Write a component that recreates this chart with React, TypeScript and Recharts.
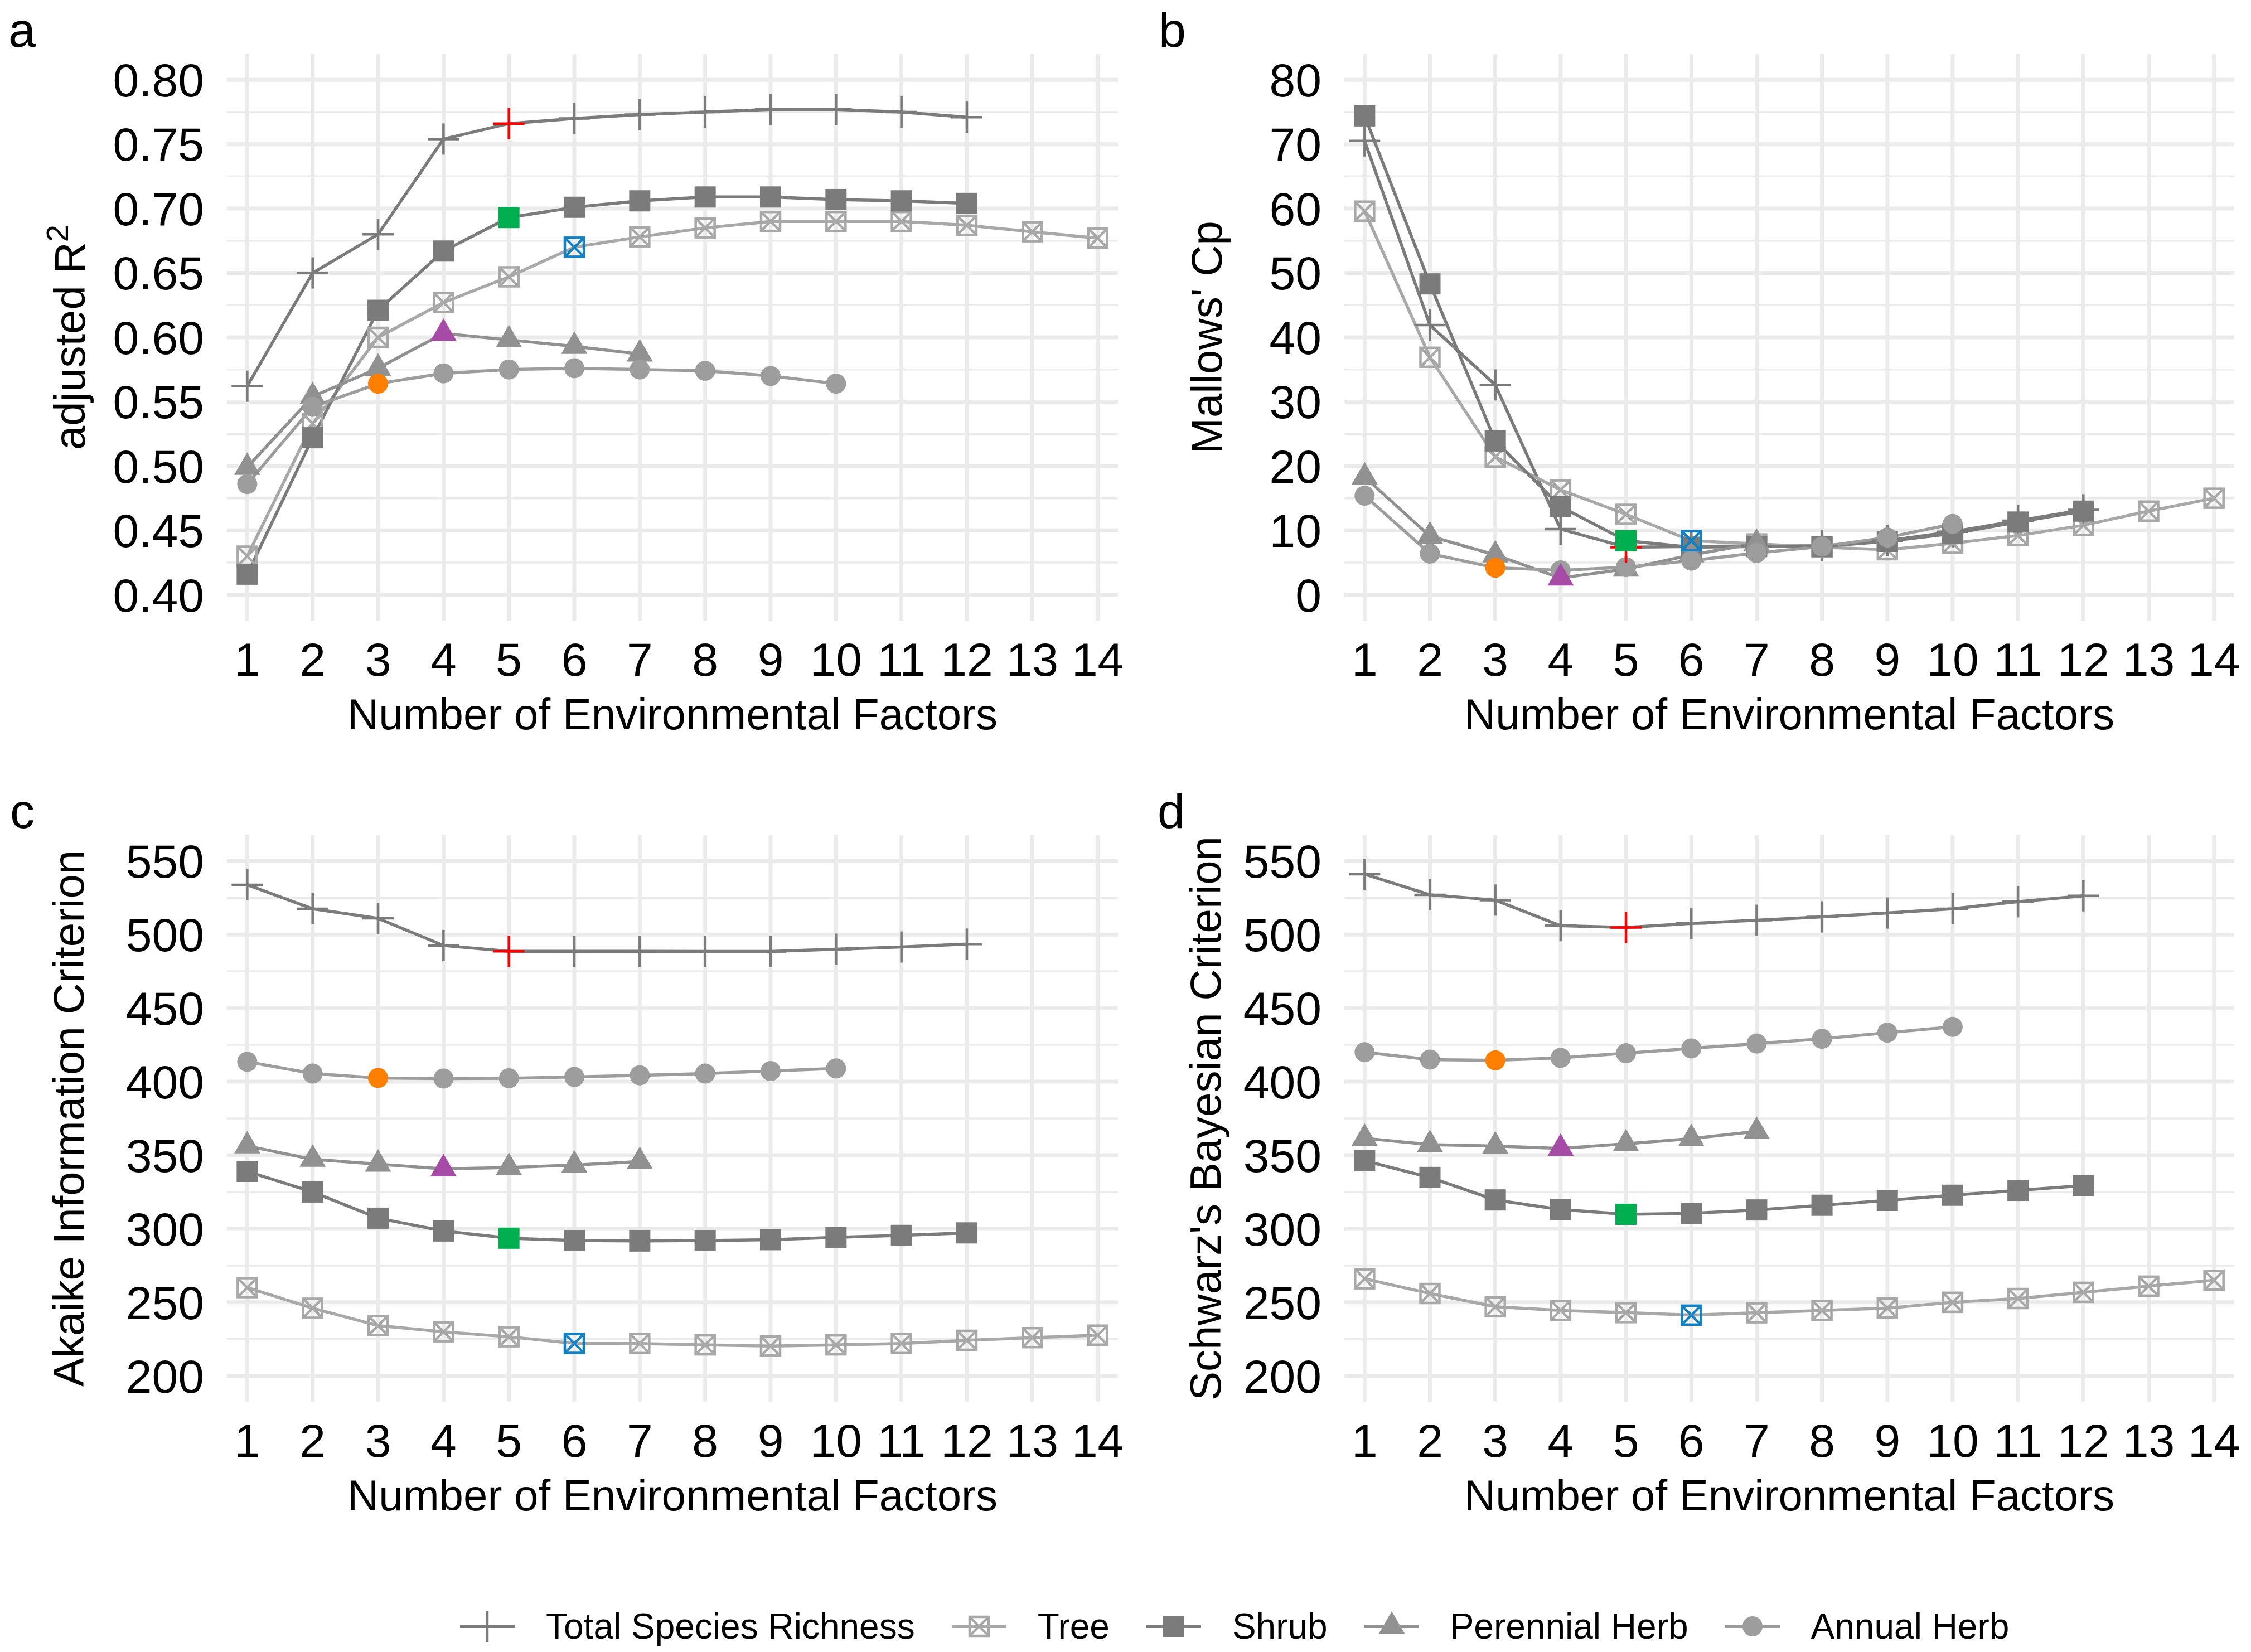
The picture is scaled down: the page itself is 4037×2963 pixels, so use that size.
import React from 'react';
import { ComposedChart, Line, XAxis, YAxis, CartesianGrid } from 'recharts';

const FONT = '"Liberation Sans", Arial, Helvetica, sans-serif';

// x categories: number of environmental factors
const factors = [1, 2, 3, 4, 5, 6, 7, 8, 9, 10, 11, 12, 13, 14];

// legend / series
const seriesKeys = ['total', 'tree', 'shrub', 'perennial', 'annual'];
const seriesNames = ['Total Species Richness', 'Tree', 'Shrub', 'Perennial Herb', 'Annual Herb'];
const seriesColors = ['#7b7b7b', '#a8a8a8', '#7b7b7b', '#919191', '#9d9d9d'];
const seriesShapes = ['plus', 'boxX', 'square', 'triangle', 'circle'];
const bestColors = ['#ff0000', '#1380c3', '#00b050', '#a64ca6', '#ff7f00'];
const bestK = [5, 6, 5, 4, 3];

// a: adjusted R2
const r2Total = [0.562, 0.65, 0.68, 0.754, 0.766, 0.77, 0.773, 0.775, 0.777, 0.777, 0.775, 0.771];
const r2Tree = [0.43, 0.533, 0.6, 0.627, 0.647, 0.67, 0.678, 0.685, 0.69, 0.69, 0.69, 0.687, 0.682, 0.677];
const r2Shrub = [0.416, 0.522, 0.621, 0.667, 0.693, 0.701, 0.706, 0.709, 0.709, 0.707, 0.706, 0.704];
const r2Perennial = [0.499, 0.554, 0.576, 0.603, 0.598, 0.593, 0.587];
const r2Annual = [0.486, 0.546, 0.564, 0.572, 0.575, 0.576, 0.575, 0.574, 0.57, 0.564];

// b: Mallows' Cp
const cpTotal = [70.5, 41.9, 32.6, 10.2, 7.4, 7.5, 7.6, 7.6, 8.4, 9.8, 11.5, 13.2];
const cpTree = [59.6, 36.9, 21.4, 16.3, 12.5, 8.4, 7.9, 7.4, 7.0, 8.0, 9.2, 10.8, 13.0, 15.0];
const cpShrub = [74.4, 48.3, 23.9, 13.7, 8.4, 7.4, 7.5, 7.5, 8.3, 9.5, 11.3, 13.0];
const cpPerennial = [18.3, 9.1, 6.2, 2.6, 4.0, 6.2, 8.0];
const cpAnnual = [15.4, 6.4, 4.2, 3.8, 4.3, 5.3, 6.5, 7.5, 8.9, 11.0];

// c: AIC
const aicTotal = [533.8, 517.5, 511, 492.5, 488.6, 488.6, 488.6, 488.5, 488.5, 490, 491.5, 493.5];
const aicTree = [260, 246, 234.2, 230, 226.6, 222.1, 222, 221.1, 220.3, 221.1, 222, 224.2, 226, 227.7];
const aicShrub = [339, 325, 307.2, 298.5, 293.6, 292, 291.7, 292, 292.6, 294.2, 295.5, 297.2];
const aicPerennial = [356.3, 347.2, 343.9, 340.7, 341.7, 343.3, 345.7];
const aicAnnual = [413.5, 405.5, 402.5, 402.1, 402.3, 403.2, 404.3, 405.5, 407.2, 409];

// d: BIC
const bicTotal = [541, 527, 523.4, 506, 504.8, 507.5, 509.7, 512, 514.6, 517.5, 522.3, 526.3];
const bicTree = [266, 256, 247, 244.5, 243, 241.3, 242.9, 244.5, 246.1, 250, 252.6, 256.8, 261, 265];
const bicShrub = [346.2, 334.9, 319.6, 313.1, 309.8, 310.5, 312.8, 316, 319.3, 322.8, 326.1, 329.3];
const bicPerennial = [361.5, 357.2, 356.2, 354.6, 357.8, 361.3, 366.2];
const bicAnnual = [420, 415, 414.5, 416.2, 419.3, 422.6, 425.9, 429.1, 433.3, 437.2];

// axis ticks
const r2Ticks = [0.4, 0.45, 0.5, 0.55, 0.6, 0.65, 0.7, 0.75, 0.8];
const r2Minor = [0.425, 0.475, 0.525, 0.575, 0.625, 0.675, 0.725, 0.775];
const cpTicks = [0, 10, 20, 30, 40, 50, 60, 70, 80];
const cpMinor = [5, 15, 25, 35, 45, 55, 65, 75];
const icTicks = [200, 250, 300, 350, 400, 450, 500, 550];
const icMinor = [225, 275, 325, 375, 425, 475, 525];

function buildRows(total: number[], tree: number[], shrub: number[], perennial: number[], annual: number[]) {
  return factors.map((k, i) => ({
    k,
    total: total[i],
    tree: tree[i],
    shrub: shrub[i],
    perennial: perennial[i],
    annual: annual[i],
  }));
}

const r2Rows = buildRows(r2Total, r2Tree, r2Shrub, r2Perennial, r2Annual);
const cpRows = buildRows(cpTotal, cpTree, cpShrub, cpPerennial, cpAnnual);
const aicRows = buildRows(aicTotal, aicTree, aicShrub, aicPerennial, aicAnnual);
const bicRows = buildRows(bicTotal, bicTree, bicShrub, bicPerennial, bicAnnual);

function Marker({ shape, cx, cy, color }: { shape: string; cx: number; cy: number; color: string }) {
  if (shape === 'plus') {
    return (
      <g>
        <line x1={cx - 28} y1={cy} x2={cx + 28} y2={cy} stroke={color} strokeWidth={4.5} />
        <line x1={cx} y1={cy - 28} x2={cx} y2={cy + 28} stroke={color} strokeWidth={4.5} />
      </g>
    );
  }
  if (shape === 'boxX') {
    const h = 17;
    return (
      <g stroke={color} strokeWidth={4.5} fill="none">
        <rect x={cx - h} y={cy - h} width={2 * h} height={2 * h} />
        <line x1={cx - h} y1={cy - h} x2={cx + h} y2={cy + h} />
        <line x1={cx - h} y1={cy + h} x2={cx + h} y2={cy - h} />
      </g>
    );
  }
  if (shape === 'square') {
    return <rect x={cx - 19} y={cy - 19} width={38} height={38} fill={color} />;
  }
  if (shape === 'triangle') {
    return <polygon points={`${cx},${cy - 27} ${cx + 23.5},${cy + 13.5} ${cx - 23.5},${cy + 13.5}`} fill={color} />;
  }
  return <circle cx={cx} cy={cy} r={18} fill={color} />;
}

function makeDot(si: number, mode: 'normal' | 'best') {
  return (props: any) => {
    const { cx, cy, index } = props;
    const key = `${mode}-${si}-${index}`;
    if (cx == null || cy == null || Number.isNaN(cy)) return <g key={key} />;
    const isBest = factors[index] === bestK[si];
    if (mode === 'normal' && isBest) return <g key={key} />;
    if (mode === 'best' && !isBest) return <g key={key} />;
    return (
      <g key={key}>
        <Marker shape={seriesShapes[si]} cx={cx} cy={cy} color={mode === 'best' ? bestColors[si] : seriesColors[si]} />
      </g>
    );
  };
}

type PanelProps = {
  rows: any[];
  left: number;
  top: number;
  width: number;
  yAxisWidth: number;
  marginRight: number;
  yDomain: [number, number];
  yTicks: number[];
  yMinor: number[];
  fmt: (v: number) => string;
  title: React.ReactNode;
  titleX: number;
  letter: string;
  letterX: number;
};

const PH = 1400;

function Panel(p: PanelProps) {
  return (
    <div style={{ position: 'absolute', left: p.left, top: p.top, width: p.width, height: PH }}>
      <ComposedChart
        width={p.width}
        height={PH}
        data={p.rows}
        margin={{ top: 97, right: p.marginRight, bottom: 87, left: 0 }}
      >
        <CartesianGrid horizontalValues={p.yMinor} vertical={false} stroke="#ebebeb" strokeWidth={3.5} />
        <CartesianGrid horizontalValues={p.yTicks} verticalValues={factors} stroke="#ebebeb" strokeWidth={7} />
        <XAxis
          type="number"
          dataKey="k"
          domain={[0.69, 14.31]}
          ticks={factors}
          interval={0}
          allowDataOverflow
          axisLine={false}
          tickLine={false}
          tickSize={0}
          tickMargin={39}
          height={200}
          tick={{ fontSize: 84, fill: '#000', fontFamily: FONT }}
          label={{
            value: 'Number of Environmental Factors',
            position: 'insideBottom',
            offset: 5,
            fontSize: 78,
            fill: '#000',
            fontFamily: FONT,
          }}
        />
        <YAxis
          type="number"
          domain={p.yDomain}
          ticks={p.yTicks}
          interval={0}
          allowDataOverflow
          axisLine={false}
          tickLine={false}
          tickSize={0}
          tickMargin={41}
          width={p.yAxisWidth}
          tickFormatter={p.fmt}
          tick={{ fontSize: 84, fill: '#000', fontFamily: FONT }}
        />
        {seriesKeys.map((key, si) => (
          <Line
            key={`line-${key}`}
            type="linear"
            dataKey={key}
            stroke={seriesColors[si]}
            strokeWidth={5.5}
            dot={false}
            activeDot={false}
            isAnimationActive={false}
          />
        ))}
        {seriesKeys.map((key, si) => (
          <Line
            key={`pts-${key}`}
            type="linear"
            dataKey={key}
            stroke="none"
            dot={makeDot(si, 'normal')}
            activeDot={false}
            isAnimationActive={false}
          />
        ))}
        {seriesKeys.map((key, si) => (
          <Line
            key={`best-${key}`}
            type="linear"
            dataKey={key}
            stroke="none"
            dot={makeDot(si, 'best')}
            activeDot={false}
            isAnimationActive={false}
          />
        ))}
      </ComposedChart>
      <svg
        width={p.width}
        height={PH}
        style={{ position: 'absolute', left: 0, top: 0, pointerEvents: 'none' }}
      >
        <text x={p.letterX} y={84} fontSize={88} fontFamily={FONT} fill="#000">
          {p.letter}
        </text>
        <text
          transform={`translate(${p.titleX},605) rotate(-90)`}
          textAnchor="middle"
          fontSize={78}
          fontFamily={FONT}
          fill="#000"
        >
          {p.title}
        </text>
      </svg>
    </div>
  );
}

function LegendKey({ si }: { si: number }) {
  return (
    <svg width={98} height={70} style={{ display: 'block', flex: 'none' }}>
      <line x1={0} y1={35} x2={98} y2={35} stroke={seriesColors[si]} strokeWidth={6} />
      <Marker shape={seriesShapes[si]} cx={49} cy={35} color={seriesColors[si]} />
    </svg>
  );
}

export default function App() {
  const leftW = 2018;
  const rightW = 2019;
  return (
    <div
      style={{
        position: 'absolute',
        left: 0,
        top: 0,
        width: 4037,
        height: 2963,
        background: '#fff',
        fontFamily: FONT,
        overflow: 'hidden',
      }}
    >
      <Panel
        rows={r2Rows}
        left={0}
        top={0}
        width={leftW}
        yAxisWidth={407}
        marginRight={13}
        yDomain={[0.38, 0.82]}
        yTicks={r2Ticks}
        yMinor={r2Minor}
        fmt={(v) => v.toFixed(2)}
        title={
          <>
            <tspan>adjusted R</tspan>
            <tspan dy={-30} fontSize={56}>
              2
            </tspan>
          </>
        }
        titleX={152}
        letter="a"
        letterX={15}
      />
      <Panel
        rows={cpRows}
        left={leftW}
        top={0}
        width={rightW}
        yAxisWidth={393}
        marginRight={30}
        yDomain={[-4, 84]}
        yTicks={cpTicks}
        yMinor={cpMinor}
        fmt={(v) => String(v)}
        title="Mallows' Cp"
        titleX={173}
        letter="b"
        letterX={60}
      />
      <Panel
        rows={aicRows}
        left={0}
        top={1401}
        width={leftW}
        yAxisWidth={407}
        marginRight={13}
        yDomain={[182.5, 567.5]}
        yTicks={icTicks}
        yMinor={icMinor}
        fmt={(v) => String(v)}
        title="Akaike Information Criterion"
        titleX={150}
        letter="c"
        letterX={18}
      />
      <Panel
        rows={bicRows}
        left={leftW}
        top={1401}
        width={rightW}
        yAxisWidth={393}
        marginRight={30}
        yDomain={[182.5, 567.5]}
        yTicks={icTicks}
        yMinor={icMinor}
        fmt={(v) => String(v)}
        title="Schwarz's Bayesian Criterion"
        titleX={171}
        letter="d"
        letterX={58}
      />
      <div
        style={{
          position: 'absolute',
          left: 825,
          top: 2879,
          height: 76,
          display: 'flex',
          alignItems: 'center',
          whiteSpace: 'nowrap',
        }}
      >
        {seriesNames.map((name, si) => (
          <div key={name} style={{ display: 'flex', alignItems: 'center', marginRight: 66 }}>
            <LegendKey si={si} />
            <span style={{ marginLeft: 56, fontSize: 64, color: '#000' }}>{name}</span>
          </div>
        ))}
      </div>
    </div>
  );
}
